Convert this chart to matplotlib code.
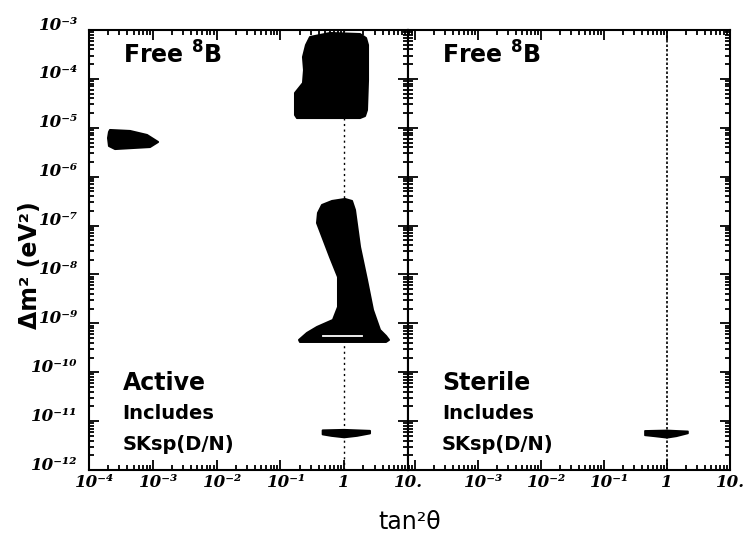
import numpy as np
import matplotlib
matplotlib.use("Agg")
import matplotlib.pyplot as plt
import matplotlib.transforms as mtransforms
from matplotlib.ticker import LogLocator, NullFormatter

# allowed regions as log10(tan^2 theta), log10(dm^2 / eV^2)
lma_logt = [-0.536, -0.223, 0.248, 0.342, 0.373, 0.373, 0.357, 0.326, 0.248,
            -0.740, -0.771, -0.771, -0.646, -0.630, -0.646, -0.599]
lma_logm = [-3.143, -3.061, -3.082, -3.164, -3.307, -4.022, -4.636, -4.759, -4.800,
            -4.800, -4.738, -4.288, -4.084, -3.818, -3.552, -3.307]

sma_logt = [-3.671, -3.357, -3.091, -2.918, -3.044, -3.592, -3.687, -3.702, -3.687]
sma_logm = [-5.045, -5.065, -5.147, -5.290, -5.393, -5.434, -5.372, -5.209, -5.086]

low_logt = [-0.411, -0.348, -0.191, 0.013, 0.122, 0.169, 0.248, 0.357, 0.451, 0.561,
            0.655, 0.702, 0.655, -0.693, -0.708, -0.583, -0.426, -0.176, -0.097,
            -0.097, -0.223, -0.426]
low_logm = [-6.742, -6.579, -6.497, -6.456, -6.497, -6.681, -7.438, -8.112, -8.726,
            -9.135, -9.258, -9.339, -9.380, -9.380, -9.339, -9.196, -9.074, -8.930,
            -8.665, -8.051, -7.642, -6.947]
low_gap_logt = [-0.332, 0.279]
low_gap_logm = [-9.258, -9.258]

vac_logt = [-0.337, 0.0, 0.404, 0.404, 0.2, 0.0, -0.2, -0.337]
vac_logm = [-11.19, -11.18, -11.20, -11.25, -11.30, -11.33, -11.30, -11.27]

vac_st_logt = [-0.349, 0.0, 0.333, 0.333, 0.15, 0.0, -0.2, -0.349]
vac_st_logm = [-11.20, -11.19, -11.21, -11.25, -11.31, -11.34, -11.31, -11.29]

ytick_exp = [-12, -11, -10, -9, -8, -7, -6, -5, -4, -3]
ytick_labels = ["10⁻¹²", "10⁻¹¹", "10⁻¹⁰", "10⁻⁹", "10⁻⁸", "10⁻⁷",
                "10⁻⁶", "10⁻⁵", "10⁻⁴", "10⁻³"]
xtick_exp = [-4, -3, -2, -1, 0, 1]
xtick_labels_left = ["10⁻⁴", "10⁻³", "10⁻²", "10⁻¹", "1", "10."]
xtick_labels_right = ["", "10⁻³", "10⁻²", "10⁻¹", "1", "10."]

tick_font = dict(fontfamily="DejaVu Serif", fontweight="bold", fontstyle="italic", fontsize=12)
text_font = dict(fontfamily="DejaVu Sans", fontweight="bold", color="black")

fig = plt.figure(figsize=(7.5, 5.42), dpi=100)
ax1 = fig.add_axes([0.1187, 0.1328, 0.4253, 0.8118])
ax2 = fig.add_axes([0.544, 0.1328, 0.4293, 0.8118])


def setup(ax, xlim, xlabels, show_y):
    ax.set_xscale("log")
    ax.set_yscale("log")
    ax.set_xlim(*xlim)
    ax.set_ylim(1e-12, 1e-3)
    ax.set_xticks(10.0 ** np.array(xtick_exp), xlabels, **tick_font)
    ax.xaxis.set_minor_locator(LogLocator(base=10, subs=np.arange(2, 10), numticks=30))
    ax.xaxis.set_minor_formatter(NullFormatter())
    ax.set_yticks(10.0 ** np.array(ytick_exp), ytick_labels if show_y else [], **tick_font)
    ax.yaxis.set_minor_locator(LogLocator(base=10, subs=np.arange(2, 10), numticks=30))
    ax.yaxis.set_minor_formatter(NullFormatter())
    ax.tick_params(which="both", direction="in", top=True, right=True, width=1.3)
    ax.tick_params(which="major", length=7)
    ax.tick_params(which="minor", length=3.5)
    ax.tick_params(axis="x", pad=3)
    ax.tick_params(axis="y", pad=8)
    for s in ax.spines.values():
        s.set_linewidth(1.5)
    # base "10" sits on the tick, exponent hangs to the right
    shift = mtransforms.ScaledTranslation(6 / 100, 0, fig.dpi_scale_trans)
    for lab in ax.get_xticklabels():
        if "⁻" in lab.get_text():
            lab.set_transform(lab.get_transform() + shift)
    up = mtransforms.ScaledTranslation(0, 7 / 100, fig.dpi_scale_trans)
    for lab in ax.get_yticklabels():
        lab.set_transform(lab.get_transform() + up)


setup(ax1, (1e-4, 10), xtick_labels_left, True)
setup(ax2, (10 ** -4.11, 10), xtick_labels_right, False)

# left panel: active
ax1.axvline(1.0, color="black", lw=1.0, ls=(0, (1.5, 2.5)), zorder=1)
for lt, lm in [(lma_logt, lma_logm), (sma_logt, sma_logm), (low_logt, low_logm),
               (vac_logt, vac_logm)]:
    ax1.fill(10.0 ** np.array(lt), 10.0 ** np.array(lm), facecolor="black",
             edgecolor="black", lw=1.5, joinstyle="round", zorder=2)
ax1.plot(10.0 ** np.array(low_gap_logt), 10.0 ** np.array(low_gap_logm),
         color="white", lw=1.3, zorder=3)

# right panel: sterile
ax2.axvline(1.0, color="black", lw=1.2, ls=(0, (1.5, 1.2)), zorder=1)
ax2.fill(10.0 ** np.array(vac_st_logt), 10.0 ** np.array(vac_st_logm), facecolor="black",
         edgecolor="black", lw=1.2, joinstyle="round", zorder=2)

for ax, name in [(ax1, "Active"), (ax2, "Sterile")]:
    ax.text(0.105, 0.943, "Free $^{\\mathbf{8}}$B", transform=ax.transAxes,
            fontsize=17, va="center", ha="left", **text_font)
    ax.text(0.105, 0.198, name, transform=ax.transAxes, fontsize=17,
            va="center", ha="left", **text_font)
    ax.text(0.105, 0.128, "Includes", transform=ax.transAxes, fontsize=14,
            va="center", ha="left", **text_font)
    ax.text(0.105, 0.058, "SKsp(D/N)", transform=ax.transAxes, fontsize=14,
            va="center", ha="left", **text_font)

plt.rcParams["mathtext.fontset"] = "dejavusans"
fig.text(30 / 750, 1 - 265 / 542, "Δm² (eV²)", rotation=90, ha="center", va="center",
         fontsize=17, **text_font)
fig.text(410 / 750, 1 - 522 / 542, "tan²θ", ha="center", va="center",
         fontsize=17, fontfamily="DejaVu Sans", color="black")

fig.savefig("out.png", dpi=100)
